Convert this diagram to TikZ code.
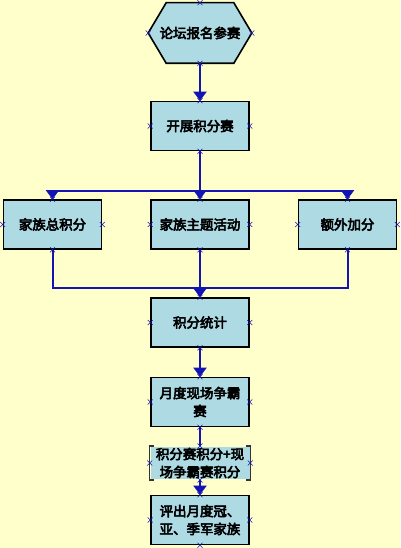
\documentclass[tikz,border=0pt]{standalone}
\usepackage{fontspec}
\newfontfamily\cjk{Noto Sans CJK SC}[FakeBold=4]
\usetikzlibrary{arrows.meta,backgrounds}
\definecolor{bgyellow}{RGB}{255,255,204}
\definecolor{boxblue}{RGB}{174,218,228}
\definecolor{lineblue}{RGB}{20,20,180}
\begin{document}
\begin{tikzpicture}[x=1bp,y=-1bp,
	box/.style={draw=black,line width=1.6bp,fill=boxblue,minimum width=98bp,minimum height=49bp,align=center,font=\cjk\fontsize{13.5}{18}\selectfont,inner sep=2bp},
	flow/.style={draw=lineblue,line width=2bp},
	arr/.style={flow,-{Triangle[length=9bp,width=13bp]}},
	cpt/.style={draw=lineblue,line width=0.6bp}]
		\useasboundingbox(0,0)rectangle(400,548);
		\node[box,draw=none,fill=none,minimum width=102bp,minimum height=59bp](start)at(200,33){论坛报名参赛};
		\node[box](kai)at(200,126){开展积分赛};
		\node[box](total)at(52.5,224.5){家族总积分};
		\node[box](theme)at(200,224.5){家族主题活动};
		\node[box](extra)at(347.5,224.5){额外加分};
		\node[box](tongji)at(200,322.5){积分统计};
		\node[box](yuedu)at(200,402){月度现场争霸\\赛};
		\node[box,draw=none,minimum height=30bp,minimum width=99bp,inner sep=1bp](note)at(200,463){积分赛积分+现\\场争霸赛积分};
		\node[box](pingchu)at(200,520){评出月度冠、\\亚、季军家族};
		\begin{scope}[on background layer]
			\fill[bgyellow](0,0)rectangle(400,548);
			% hexagon of the first step
			\draw[line width=1.6bp,fill=boxblue]([xshift=18bp]start.north west)--([xshift=-18bp]start.north east)--(start.east)--([xshift=-18bp]start.south east)--([xshift=18bp]start.south west)--(start.west)--cycle;
		\end{scope}
		% brackets of the note
		\draw[line width=1.4bp,black!80]([xshift=4bp]note.north west)--(note.north west)--(note.south west)--([xshift=4bp]note.south west);
		\draw[line width=1.4bp,black!80]([xshift=-4bp]note.north east)--(note.north east)--(note.south east)--([xshift=-4bp]note.south east);
		% connection points
		\foreach \n in {start,kai,total,theme,extra,tongji,yuedu,note,pingchu}{
			\foreach \a in {north,south,east,west}{\draw[cpt]([shift={(-2.5bp,-2.5bp)}]\n.\a)--++(5bp,5bp)([shift={(-2.5bp,2.5bp)}]\n.\a)--++(5bp,-5bp);}}
		\coordinate(split)at(200,191);
		\coordinate(merge)at(200,288);
		\draw[arr](start.south)--(kai.north);
		\draw[arr](kai.south)--(theme.north);
		\draw[arr](split)-|(total.north);
		\draw[arr](split)-|(extra.north);
		\draw[flow](total.south)|-(merge);
		\draw[flow](extra.south)|-(merge);
		\draw[arr](theme.south)--(tongji.north);
		\draw[arr](tongji.south)--(yuedu.north);
		\draw[flow](yuedu.south)--(note.north);
		\draw[arr](note.south)--(pingchu.north);
\end{tikzpicture}
\end{document}
